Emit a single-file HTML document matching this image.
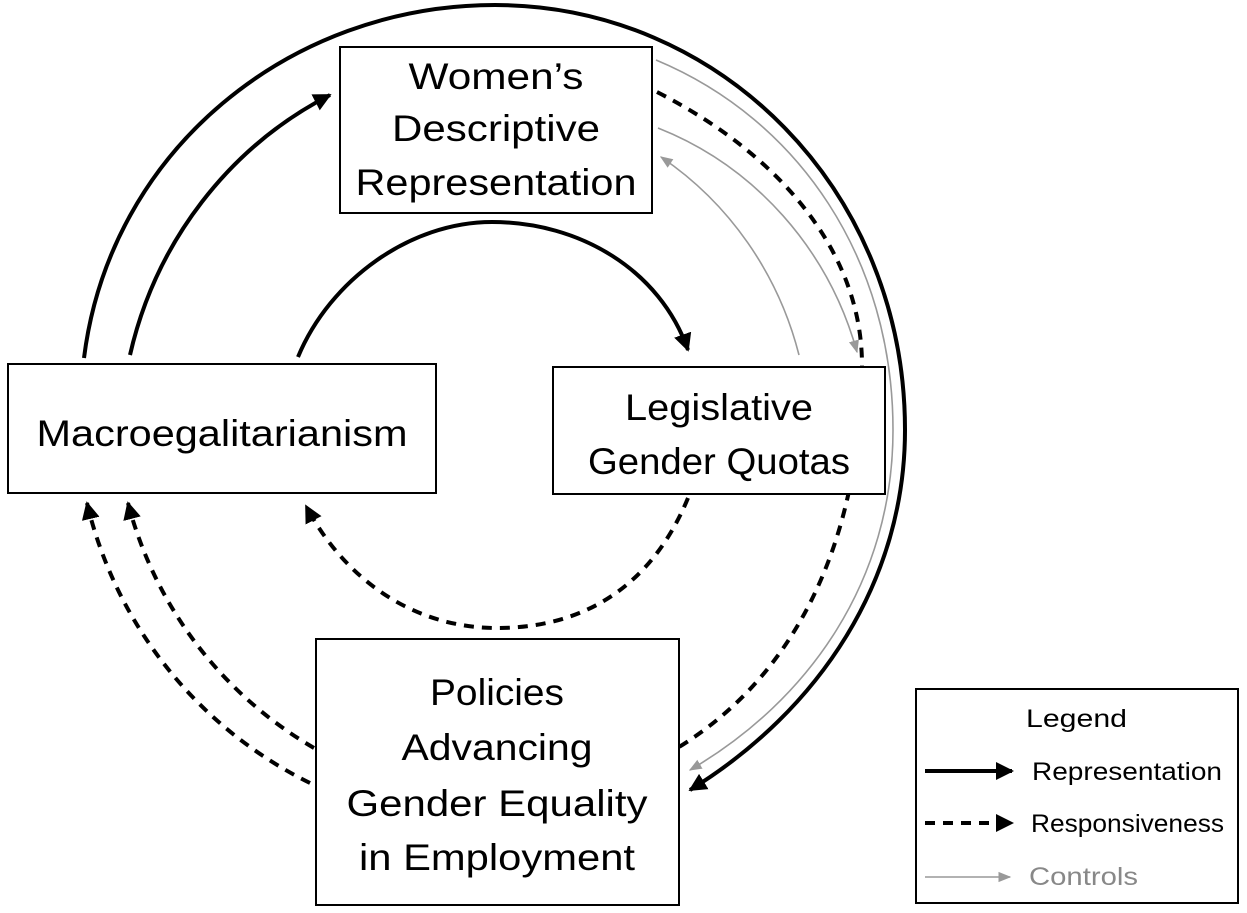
<!DOCTYPE html>
<html><head><meta charset="utf-8"><style>
html,body{margin:0;padding:0;background:#fff;}
svg{display:block;}
text{font-family:"Liberation Sans",sans-serif;font-size:37px;fill:#000;text-anchor:middle;}
.lg{font-size:25px;text-anchor:start;}
</style></head><body>
<svg width="1247" height="913" viewBox="0 0 1247 913" xmlns="http://www.w3.org/2000/svg">
<defs>
<marker id="ab" viewBox="0 0 10 10" refX="9" refY="5" markerWidth="4.5" markerHeight="4.5" orient="auto" markerUnits="strokeWidth"><path d="M0,0 L10,5 L0,10 z" fill="#000"/></marker>
<marker id="ag" viewBox="0 0 10 10" refX="9" refY="5" markerWidth="8" markerHeight="8" orient="auto" markerUnits="strokeWidth"><path d="M0,1 L10,5 L0,9 z" fill="#999"/></marker>
</defs>
<g fill="none">
<!-- outer solid -->
<path d="M84,358 C110,150 290,5 495,5 C720,5 905,190 905,430 C905,580 820,710 690,790" stroke="#000" stroke-width="4" marker-end="url(#ab)"/>
<!-- inner left solid -->
<path d="M130,355 A380,390 0 0 1 330,95" stroke="#000" stroke-width="4" marker-end="url(#ab)"/>
<!-- middle solid -->
<path d="M298,357 C330,280 410,222 492,222 C580,222 660,270 688,350" stroke="#000" stroke-width="4" marker-end="url(#ab)"/>
<!-- gray controls -->
<path d="M656,60 C800,120 893,260 893,430 C893,580 810,700 690,770" stroke="#999" stroke-width="1.6" marker-end="url(#ag)"/>
<path d="M658,128 A330,340 0 0 1 857,352" stroke="#999" stroke-width="1.6" marker-end="url(#ag)"/>
<path d="M799,355 A330,340 0 0 0 661,157" stroke="#999" stroke-width="1.6" marker-end="url(#ag)"/>
<!-- dashed from WDR to Policies -->
<path d="M657,92 C790,160 862,260 862,365 C862,500 820,660 679,747" stroke="#000" stroke-width="4" stroke-dasharray="10,8"/>
<!-- dashed quotas to macro -->
<path d="M688,498 C650,590 580,628 497,628 C414,628 345,580 306,506" stroke="#000" stroke-width="4" stroke-dasharray="10,8" marker-end="url(#ab)"/>
<!-- dashed policies to macro -->
<path d="M310,783 A420,420 0 0 1 87,503" stroke="#000" stroke-width="4" stroke-dasharray="10,8" marker-end="url(#ab)"/>
<path d="M314,748 A400,400 0 0 1 128,503" stroke="#000" stroke-width="4" stroke-dasharray="10,8" marker-end="url(#ab)"/>
</g>
<g fill="#fff" stroke="#000" stroke-width="2">
<rect x="340" y="47" width="312" height="166"/>
<rect x="8" y="364" width="428" height="129"/>
<rect x="553" y="367" width="332" height="127"/>
<rect x="316" y="639" width="363" height="266"/>
<rect x="916" y="689" width="322" height="214"/>
</g>
<text x="496" y="89" textLength="175" lengthAdjust="spacingAndGlyphs">Women’s</text>
<text x="496" y="141" textLength="208" lengthAdjust="spacingAndGlyphs">Descriptive</text>
<text x="496" y="195" textLength="281" lengthAdjust="spacingAndGlyphs">Representation</text>
<text x="222" y="446" textLength="371" lengthAdjust="spacingAndGlyphs">Macroegalitarianism</text>
<text x="719" y="420" textLength="188" lengthAdjust="spacingAndGlyphs">Legislative</text>
<text x="719" y="474" textLength="262" lengthAdjust="spacingAndGlyphs">Gender Quotas</text>
<text x="497" y="705" textLength="134" lengthAdjust="spacingAndGlyphs">Policies</text>
<text x="497" y="760" textLength="191" lengthAdjust="spacingAndGlyphs">Advancing</text>
<text x="497" y="816" textLength="301" lengthAdjust="spacingAndGlyphs">Gender Equality</text>
<text x="497" y="870" textLength="276" lengthAdjust="spacingAndGlyphs">in Employment</text>
<text class="lg" x="1026" y="727" textLength="101" lengthAdjust="spacingAndGlyphs">Legend</text>
<text class="lg" x="1032" y="780" textLength="190" lengthAdjust="spacingAndGlyphs">Representation</text>
<text class="lg" x="1031" y="832" textLength="193" lengthAdjust="spacingAndGlyphs">Responsiveness</text>
<text class="lg" x="1029" y="885" textLength="109" lengthAdjust="spacingAndGlyphs" style="fill:#888">Controls</text>
<g fill="none">
<line x1="925" y1="771" x2="1012" y2="771" stroke="#000" stroke-width="4"/>
<path d="M996,762 L1014,771 L996,780 z" fill="#000"/>
<line x1="925" y1="823" x2="1000" y2="823" stroke="#000" stroke-width="4" stroke-dasharray="10,8"/>
<path d="M996,814 L1014,823 L996,832 z" fill="#000"/>
<line x1="925" y1="877" x2="1010" y2="877" stroke="#999" stroke-width="1.6" marker-end="url(#ag)"/>
</g>
</svg>
</body></html>
